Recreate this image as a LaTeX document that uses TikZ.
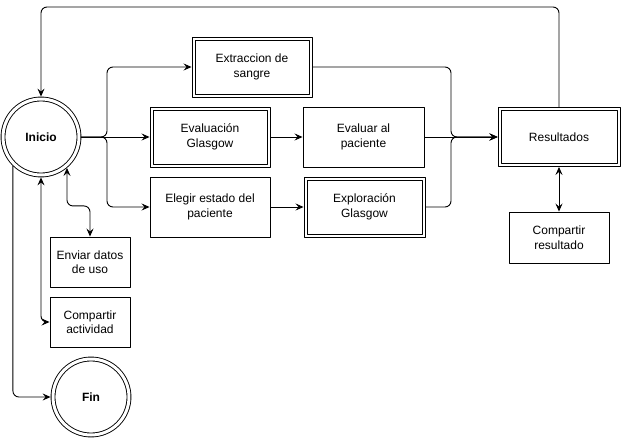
\documentclass[tikz,border=0pt]{standalone}
\usepackage{fontspec}
\setmainfont{Liberation Sans}
\usetikzlibrary{arrows.meta}
\begin{document}
\begin{tikzpicture}[x=1pt,y=-1pt,line join=round,line cap=round,font=\fontsize{12}{14.5}\selectfont,>={Stealth[length=8pt,width=7pt,inset=3pt]},line width=0.9pt,
	caja/.style={draw,align=center,minimum width=120pt,minimum height=60pt,inner sep=2pt},
	cajad/.style={caja,path picture={\draw ([shift={(3pt,-3pt)}]path picture bounding box.north west) rectangle ([shift={(-3pt,3pt)}]path picture bounding box.south east);}},
	estado/.style={draw,circle,double,double distance=3pt,outer sep=2.4pt,minimum size=76pt,font=\fontsize{12}{14.5}\selectfont\bfseries}]
				\useasboundingbox (0,0) rectangle (621,441);
				% estados
				\node[estado] (ini) at (41,137) {Inicio};
				\node[estado] (fin) at (91,397) {Fin};
				% cajas
				\node[cajad] (ext) at (252,67) {Extraccion de\\sangre};
				\node[cajad] (evg) at (210,137) {Evaluación\\Glasgow};
				\node[caja,minimum width=121pt] (eva) at (363.5,137) {Evaluar al\\paciente};
				\node[caja] (ele) at (210,207) {Elegir estado del\\paciente};
				\node[cajad,minimum width=121pt] (exp) at (364.5,207) {Exploración\\Glasgow};
				\node[cajad,minimum width=122pt,minimum height=59pt] (res) at (559,137) {Resultados};
				\node[caja,minimum width=100pt,minimum height=51pt] (cres) at (559,237.5) {Compartir\\resultado};
				\node[caja,minimum width=80pt,minimum height=50pt] (env) at (90,262) {Enviar datos\\de uso};
				\node[caja,minimum width=80pt,minimum height=50pt] (cact) at (90,322) {Compartir\\actividad};
				\path 
				(107,137) coordinate (bif)
				(451,137) coordinate (uni)
				(41,7) coordinate (arri)
				;
				% conexiones
				\draw[->] (ini.east)--(evg.west);
				\draw[->,rounded corners=6pt] (ini.east)--(bif)|-(ext.west);
				\draw[->,rounded corners=6pt] (ini.east)--(bif)|-(ele.west);
				\draw[->] (evg)--(eva);
				\draw[->] (ele)--(exp);
				\draw[->] (eva)--(res);
				\draw[->,rounded corners=6pt] (ext.east)-|(uni)--(res.west);
				\draw[->,rounded corners=6pt] (exp.east)-|(uni)--(res.west);
				\draw[->,rounded corners=6pt] (res.north)|-(arri)--(ini.north);
				\draw[<->] (res.south)--(cres.north);
				\draw[<->,rounded corners=6pt] (ini.-50)--++(0,38)-|(env.north);
				\draw[<->,rounded corners=6pt] (ini.south)|-(cact.west);
				\draw[->,rounded corners=6pt] (ini.226)|-(fin.west);
			\end{tikzpicture}
\end{document}
